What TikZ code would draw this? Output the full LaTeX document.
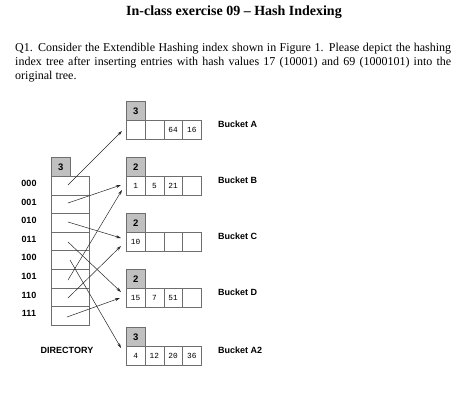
\documentclass[tikz,border=0pt]{standalone}
\usepackage{fontspec}
\setmainfont{Liberation Serif}
\newfontfamily\labelfont{Liberation Sans}
\newfontfamily\numfont{Liberation Mono}
\usetikzlibrary{arrows.meta}
\definecolor{tabgray}{HTML}{C0C0C0}
\definecolor{edgegray}{HTML}{6E6E6E}
\tikzset{
  cellbox/.style={draw=edgegray, line width=0.6pt, minimum width=18.75pt, minimum height=19pt, inner sep=0pt, anchor=north west},
  tabbox/.style={cellbox, fill=tabgray, font=\labelfont\bfseries\fontsize{9.5}{9.5}\selectfont},
  dircell/.style={draw=edgegray, line width=0.6pt, minimum width=38pt, minimum height=18.6pt, inner sep=0pt, anchor=north west},
  val/.style={font=\numfont\fontsize{7.8}{7.8}\selectfont, inner sep=0pt},
  lbl/.style={font=\labelfont\bfseries\fontsize{9}{9}\selectfont, inner sep=0pt},
  ptr/.style={draw=black!85, line width=0.5pt, -{Stealth[length=5pt,width=3pt]}}
}
\newcommand\mkbucket[8]{%
  \node[tabbox] (#1t) at (126,#2-19) {#3};
  \node[cellbox] (#1c1) at (126,#2) {};
  \node[cellbox] (#1c2) at (144.75,#2) {};
  \node[cellbox] (#1c3) at (163.5,#2) {};
  \node[cellbox] (#1c4) at (182.25,#2) {};
  \node[val] (#1v1) at (#1c1) {#4};
  \node[val] (#1v2) at (#1c2) {#5};
  \node[val] (#1v3) at (#1c3) {#6};
  \node[val] (#1v4) at (#1c4) {#7};
  \node[lbl, anchor=west] (#1l) at (218,#2+4) {#8};
}
\begin{document}
\begin{tikzpicture}[x=1pt,y=-1pt]
\useasboundingbox[fill=white] (0,0) rectangle (466,402);
% title and question
\node[font=\bfseries\fontsize{14}{16}\selectfont, inner sep=0pt] (title) at (234,12) {In-class exercise 09 -- Hash Indexing};
\node[anchor=north west, inner sep=0pt, text width=436pt, align=justify,
      font=\fontsize{12}{13.8}\selectfont] (para) at (15,43)
  {Q1. Consider the Extendible Hashing index shown in Figure 1. Please depict the hashing\linebreak
   index tree after inserting entries with hash values 17 (10001) and 69 (1000101) into the\linebreak
   original tree.};
% directory
\node[tabbox] (dt) at (51,157) {3};
\foreach \i/\t in {0/000,1/001,2/010,3/011,4/100,5/101,6/110,7/111}{
  \node[dircell] (d\i) at (51,176+18.6*\i) {};
  \node[lbl] (l\i) at (29,176+18.6*\i+7.3) {\t};
}
\node[lbl] (dirlbl) at (67,350) {DIRECTORY};
% buckets
\mkbucket{A}{120}{3}{}{}{64}{16}{Bucket A}
\mkbucket{B}{176}{2}{1}{5}{21}{}{Bucket B}
\mkbucket{C}{232}{2}{10}{}{}{}{Bucket C}
\mkbucket{D}{288}{2}{15}{7}{51}{}{Bucket D}
\mkbucket{E}{346}{3}{4}{12}{20}{36}{Bucket A2}
% pointer start points
\coordinate (s0) at (68,185);
\coordinate (s1) at (68,203);
\coordinate (s2) at (68,222);
\coordinate (s3) at (68,242);
\coordinate (s4) at (70,260);
\coordinate (s5) at (68,280);
\coordinate (s6) at (68,298);
\coordinate (s7) at (67,317);
% pointer end points
\coordinate (eA) at (122,131);
\coordinate (eB1) at (121,185);
\coordinate (eB2) at (122,190);
\coordinate (eC1) at (121,238);
\coordinate (eC2) at (121,246);
\coordinate (eD1) at (121,292);
\coordinate (eD2) at (120,298);
\coordinate (eE) at (121,348);
\draw[ptr] (s0) -- (eA);
\draw[ptr] (s1) -- (eB1);
\draw[ptr] (s2) -- (eC1);
\draw[ptr] (s3) -- (eD1);
\draw[ptr] (s4) -- (eE);
\draw[ptr] (s5) -- (eB2);
\draw[ptr] (s6) -- (eC2);
\draw[ptr] (s7) -- (eD2);
\end{tikzpicture}
\end{document}
